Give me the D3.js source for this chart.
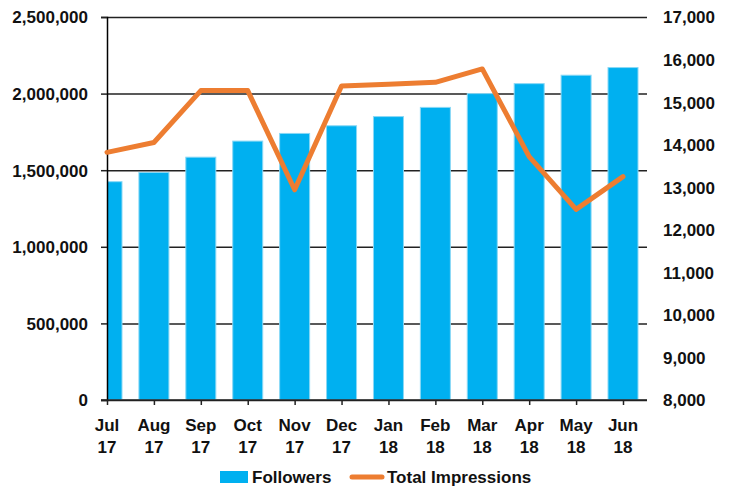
<!DOCTYPE html>
<html><head><meta charset="utf-8">
<script src="https://cdn.jsdelivr.net/npm/d3@7"></script>
<style>
body{margin:0;background:#fff;}
svg text{font-family:"Liberation Sans",Arial,sans-serif;font-weight:bold;fill:#111;}
</style></head>
<body><svg id="c" width="733" height="488"></svg>
<script>
const months = ["Jul","Aug","Sep","Oct","Nov","Dec","Jan","Feb","Mar","Apr","May","Jun"];
const years = ["17","17","17","17","17","17","18","18","18","18","18","18"];
const followers = [1425000,1485000,1585000,1690000,1740000,1790000,1850000,1910000,2000000,2065000,2120000,2170000];
const impressions = [13820,14050,15270,15270,12940,15380,15420,15465,15780,13720,12480,13250];
const leftTicks = [0,500000,1000000,1500000,2000000,2500000];
const rightTicks = [8000,9000,10000,11000,12000,13000,14000,15000,16000,17000];
const seriesNames = ["Followers","Total Impressions"];

const svg = d3.select("#c");
const L = 107, R = 647, T = 17, B = 400;
const x = d3.scalePoint().domain(months).range([L, 623]);
const yL = d3.scaleLinear().domain([0,2500000]).range([B,T]);
const yR = d3.scaleLinear().domain([8000,17000]).range([B,T]);
const fmt = d3.format(",");

svg.append("defs").append("clipPath").attr("id","clip")
  .append("rect").attr("x",L).attr("y",0).attr("width",R-L).attr("height",B);

// gridlines
const grid = svg.append("g").attr("transform",`translate(${L},0)`)
  .call(d3.axisLeft(yL).tickValues(leftTicks).tickSize(-(R-L)).tickFormat(""));
grid.select(".domain").remove();
grid.selectAll("line").attr("stroke","#222").attr("stroke-width",1.5);

// bars
svg.append("g").attr("clip-path","url(#clip)").selectAll("rect").data(followers).join("rect")
  .attr("x",(d,i)=>x(months[i])-15).attr("width",30)
  .attr("y",d=>yL(d)).attr("height",d=>B-yL(d))
  .attr("fill","#00B0F0").attr("stroke","#8ad8f5").attr("stroke-width",1);

// left axis
const ax = svg.append("g").attr("transform",`translate(${L},0)`)
  .call(d3.axisLeft(yL).tickValues(leftTicks).tickSize(6).tickPadding(13).tickFormat(fmt));
ax.select(".domain").attr("stroke","#000").attr("stroke-width",1.5);
ax.selectAll("line").attr("stroke","#222").attr("stroke-width",1.5);
ax.selectAll("text").style("font-size","17px").attr("dy","0.35em");

// right axis
const ar = svg.append("g").attr("transform",`translate(${R},0)`)
  .call(d3.axisRight(yR).tickValues(rightTicks).tickSize(0).tickPadding(16).tickFormat(fmt));
ar.select(".domain").remove();
ar.selectAll("text").style("font-size","17px").attr("dy","0.35em");

// x axis
svg.append("line").attr("x1",L-6).attr("x2",R).attr("y1",yL(0)).attr("y2",yL(0))
  .attr("stroke","#222").attr("stroke-width",1.5);
const axb = svg.append("g").attr("transform",`translate(0,${B})`)
  .call(d3.axisBottom(x).tickSize(5).tickFormat(""));
axb.select(".domain").remove();
axb.selectAll("line").attr("stroke","#222").attr("stroke-width",1.5);
const xl = svg.append("g").selectAll("text").data(months).join("text")
  .attr("x",d=>x(d)).attr("y",431).attr("text-anchor","middle").style("font-size","17px");
xl.append("tspan").attr("x",d=>x(d)).text(d=>d);
xl.append("tspan").attr("x",d=>x(d)).attr("dy",22).text((d,i)=>years[i]);

// line
svg.append("path").datum(impressions)
  .attr("d", d3.line().x((d,i)=>x(months[i])).y(d=>yR(d)))
  .attr("fill","none").attr("stroke","#ED7D31").attr("stroke-width",5)
  .attr("stroke-linejoin","round").attr("stroke-linecap","round");

// legend
const lg = svg.append("g");
lg.append("rect").attr("x",220).attr("y",471).attr("width",28).attr("height",12).attr("fill","#00B0F0");
lg.append("text").attr("x",252).attr("y",483).style("font-size","17px").text(seriesNames[0]);
lg.append("line").attr("x1",352).attr("x2",382).attr("y1",477).attr("y2",477)
  .attr("stroke","#ED7D31").attr("stroke-width",5).attr("stroke-linecap","round");
lg.append("text").attr("x",387).attr("y",483).style("font-size","17px").text(seriesNames[1]);
</script></body></html>
